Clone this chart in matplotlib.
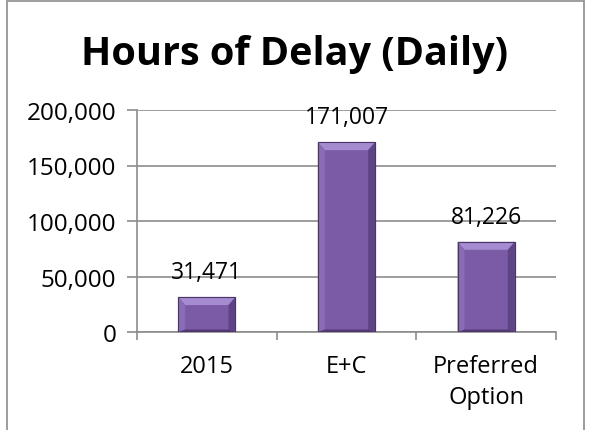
import matplotlib
matplotlib.use("Agg")
import matplotlib.pyplot as plt
from matplotlib.patches import Polygon, Rectangle
from matplotlib.ticker import FuncFormatter, FixedLocator

categories = ["2015", "E+C", "Preferred\nOption"]
values = [31471, 171007, 81226]
value_labels = ["31,471", "171,007", "81,226"]
y_ticks = [0, 50000, 100000, 150000, 200000]

plt.rcParams['font.family'] = ['Open Sans', 'DejaVu Sans']

fig = plt.figure(figsize=(5.92, 4.31), dpi=100)
fig.patch.set_facecolor("white")
# figure border
fig.patches.append(Rectangle((7/592, -0.01), (584-7)/592, 1.0 - 1.5/431 + 0.01,
                             transform=fig.transFigure, fill=False,
                             edgecolor="#8c8c8c", linewidth=1.2))

ax = fig.add_axes([137/592, (431-333)/431, (556-137)/592, (333-111)/431])
x = list(range(len(categories)))
width = 0.41
bars = ax.bar(x, values, width=width, color="#7b5aa6", edgecolor="#4a3566",
              linewidth=0.8, zorder=3)

# bevel highlights
for b in bars:
    x0, y0, w, h = b.get_x(), b.get_y(), b.get_width(), b.get_height()
    dx = 0.05
    dy = 7200
    top = Polygon([(x0, y0+h), (x0+w, y0+h), (x0+w-dx, y0+h-dy), (x0+dx, y0+h-dy)],
                  closed=True, facecolor="#a58bd0", edgecolor="none", zorder=4)
    left = Polygon([(x0, y0+h), (x0+dx, y0+h-dy), (x0+dx, y0+dy*0.3), (x0, y0)],
                   closed=True, facecolor="#8a6bb6", edgecolor="none", zorder=4)
    right = Polygon([(x0+w, y0+h), (x0+w-dx, y0+h-dy), (x0+w-dx, y0+dy*0.3), (x0+w, y0)],
                    closed=True, facecolor="#5e4485", edgecolor="none", zorder=4)
    bottom = Polygon([(x0, y0), (x0+w, y0), (x0+w-dx, y0+dy*0.3), (x0+dx, y0+dy*0.3)],
                     closed=True, facecolor="#4f3870", edgecolor="none", zorder=4)
    for p in (top, left, right, bottom):
        ax.add_patch(p)
    ax.add_patch(Rectangle((x0, y0), w, h, fill=False, edgecolor="#4a3566",
                           linewidth=0.8, zorder=5))

for xi, v, lab in zip(x, values, value_labels):
    ax.annotate(lab, (xi, v), xytext=(0, 13.5), textcoords="offset points",
                ha="center", va="baseline", fontsize=16.5, color="black", zorder=6)

ax.set_xlim(-0.5, len(categories) - 0.5)
ax.set_ylim(0, 200000)
ax.set_yticks(y_ticks)
ax.yaxis.set_major_formatter(FuncFormatter(lambda v, p: f"{int(v):,}"))
ax.set_xticks(x)
ax.set_xticklabels(categories, fontsize=17, linespacing=1.36)
ax.xaxis.set_minor_locator(FixedLocator([i - 0.5 for i in range(len(categories) + 1)]))
ax.tick_params(axis="x", which="major", length=0, pad=16)
ax.tick_params(axis="x", which="minor", length=6, color="#8c8c8c", width=1.2)
ax.tick_params(axis="y", length=7, color="#8c8c8c", width=1.2, labelsize=17.5, pad=8)
ax.grid(axis="y", color="#8c8c8c", linewidth=1.2, zorder=0)
ax.set_axisbelow(True)
for s in ("top", "right"):
    ax.spines[s].set_visible(False)
for s in ("left", "bottom"):
    ax.spines[s].set_color("#8c8c8c")
    ax.spines[s].set_linewidth(1.2)

fig.text(295/592, 1 - 65/431, "Hours of Delay (Daily)", ha="center", va="baseline",
         fontsize=28.5, fontweight="bold", color="black")

fig.savefig("out.png", dpi=100, facecolor="white")
